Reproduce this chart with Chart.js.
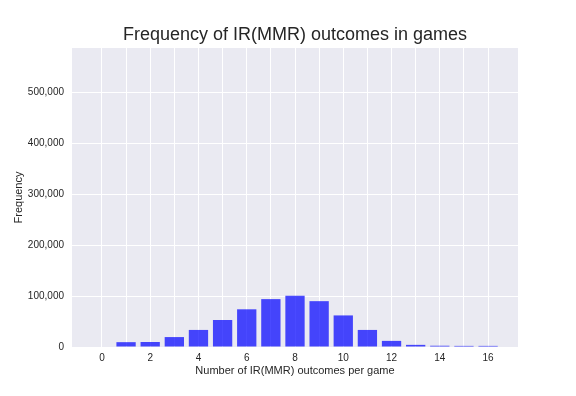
<!DOCTYPE html>
<html>
<head>
<meta charset="utf-8">
<script src="https://cdn.jsdelivr.net/npm/chart.js@4/dist/chart.umd.min.js"></script>
<style>
  html, body { margin: 0; padding: 0; background: #ffffff; }
  #wrap { width: 576px; height: 396px; }
</style>
</head>
<body>
<div id="wrap"><canvas id="freq-chart"></canvas></div>
<script>
// outcomes per game (x) and how many games had that count
const outcomes = [0, 1, 2, 3, 4, 5, 6, 7, 8, 9, 10, 11, 12, 13, 14, 15, 16]
const frequency = [0, 9500, 9800, 19500, 33500, 53000, 74000, 94000, 100500, 90000, 62000, 33500, 12000, 4200, 2500, 2200, 2200]
const x_tick_values = [0, 1, 2, 3, 4, 5, 6, 7, 8, 9, 10, 11, 12, 13, 14, 15, 16]
const y_tick_values = [0, 100000, 200000, 300000, 400000, 500000]
const chart_title = 'Frequency of IR(MMR) outcomes in games'

// grey panel behind the plot, seaborn darkgrid look
const panel_bg = {
    id: 'panel_bg',
    beforeDraw(chart) {
        let area = chart.chartArea
        let ctx = chart.ctx
        ctx.save()
        ctx.fillStyle = '#eaeaf2'
        ctx.fillRect(area.left, area.top, area.right - area.left, area.bottom - area.top)
        ctx.restore()
    }
}

// title centred over the plot area (not the whole canvas)
const panel_title = {
    id: 'panel_title',
    afterDraw(chart) {
        let area = chart.chartArea
        let ctx = chart.ctx
        ctx.save()
        ctx.fillStyle = '#262626'
        ctx.font = '18px "Liberation Sans"'
        ctx.textAlign = 'center'
        ctx.textBaseline = 'middle'
        ctx.fillText(chart_title, (area.left + area.right) / 2, 35)
        ctx.restore()
    }
}

function set_up_chart() {
    const points = outcomes.map((x, i) => ({x: x, y: frequency[i]}))

    const config = {
        type: 'bar',
        data: {
            datasets: [{
                label: 'Frequency',
                data: points,
                backgroundColor: 'rgba(0, 0, 255, 0.71)',
                borderWidth: 0,
                barPercentage: 0.8,
                categoryPercentage: 1.0
            }]
        },
        options: {
            responsive: false,
            animation: false,
            layout: {padding: {left: 0, right: 58, top: 48, bottom: 0}},
            plugins: {
                legend: {display: false},
                tooltip: {enabled: false},
                title: {display: false}
            },
            scales: {
                x: {
                    type: 'linear',
                    min: -1.24,
                    max: 17.24,
                    offset: false,
                    border: {display: false},
                    grid: {color: '#ffffff', lineWidth: 1, drawTicks: false, offset: false},
                    afterBuildTicks: (scale) => {
                        scale.ticks = x_tick_values.map(v => ({value: v}))
                    },
                    afterFit: (scale) => { scale.height = 49 },
                    ticks: {
                        padding: 5,
                        color: '#262626',
                        font: {family: 'Liberation Sans', size: 10},
                        maxRotation: 0,
                        autoSkip: false,
                        callback: (v) => (v % 2 === 0 ? String(v) : '')
                    },
                    title: {
                        display: true,
                        text: 'Number of IR(MMR) outcomes per game',
                        color: '#262626',
                        font: {family: 'Liberation Sans', size: 11},
                        padding: {top: 0, bottom: 18}
                    }
                },
                y: {
                    min: 0,
                    max: 587000,
                    border: {display: false},
                    grid: {color: '#ffffff', lineWidth: 1, drawTicks: false},
                    afterBuildTicks: (scale) => {
                        scale.ticks = y_tick_values.map(v => ({value: v}))
                    },
                    afterFit: (scale) => { scale.width = 72 },
                    ticks: {
                        padding: 8,
                        color: '#262626',
                        font: {family: 'Liberation Sans', size: 10},
                        callback: (v) => v.toLocaleString('en-US')
                    },
                    title: {
                        display: true,
                        text: 'Frequency',
                        color: '#262626',
                        font: {family: 'Liberation Sans', size: 11},
                        padding: {top: 12, bottom: 0}
                    }
                }
            }
        },
        plugins: [panel_bg, panel_title]
    }

    let my_chart = document.querySelector('#freq-chart')
    my_chart.width = 576
    my_chart.height = 396
    let crt = new Chart(my_chart, config)
}

set_up_chart()
</script>
</body>
</html>
